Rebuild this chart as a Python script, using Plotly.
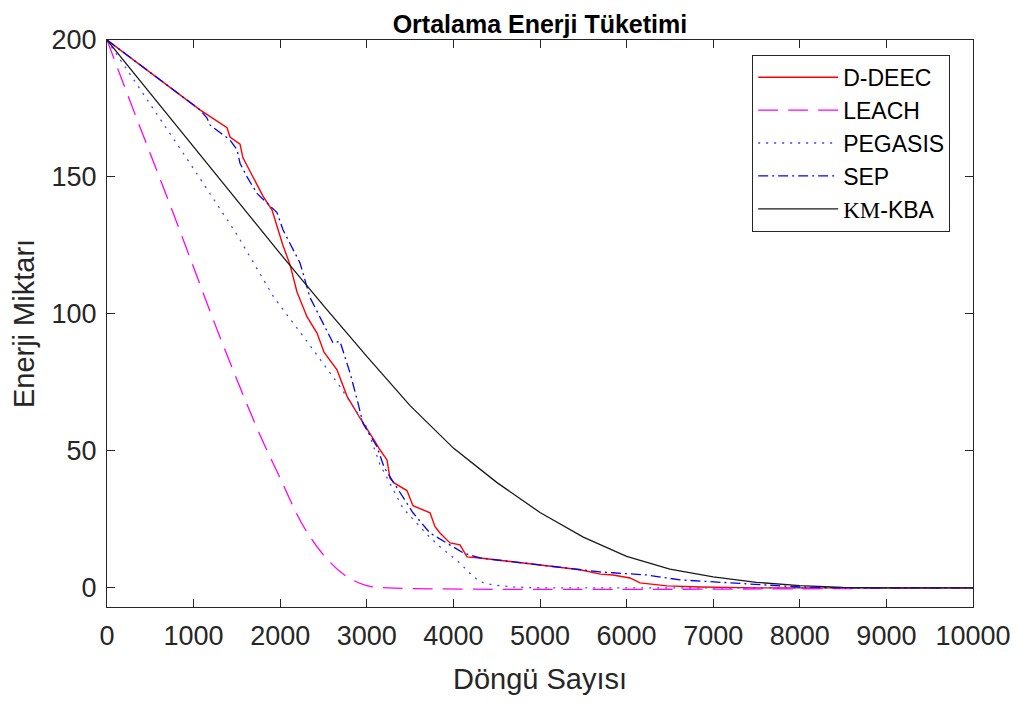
import plotly.graph_objects as go

# ---- data ----
ddeec_x = [0, 1074, 1386, 1420, 1536, 1570, 1686, 1801, 1905, 1963, 2032, 2113, 2194, 2309, 2425, 2506,
           2656, 2771, 2921, 3083, 3152, 3233, 3268, 3314, 3464, 3533, 3649, 3730, 3788, 3845, 3961,
           4076, 4157, 4307, 4688, 5000, 5462, 5700, 5843, 6039, 6155, 6467, 6848, 7500, 10000]
ddeec_y = [200, 174.5, 168, 164.6, 162, 157, 150, 143, 138, 132, 125, 118, 108, 99, 93, 86,
           79.6, 70, 62, 54, 50.4, 46.7, 40, 38.3, 35.5, 30, 28.5, 27.4, 22.3, 20, 16.4,
           15.7, 11.3, 10.9, 9.5, 8.4, 6.6, 5.0, 4.7, 3.6, 1.8, 0.7, 0.3, 0, 0]

leach_x = [0, 250, 500, 750, 1000, 1250, 1500, 1750, 2000, 2250, 2500, 2750, 3000, 3250, 10000]
leach_y = [200, 179, 158.5, 138, 117, 96, 76, 57, 40, 23.5, 12, 4.5, 0.8, 0, 0]

pegasis_x = [0, 500, 1000, 1500, 1928, 2309, 2690, 3002, 3152, 3303, 3418, 3580, 3695, 3845, 4076,
             4200, 4307, 4457, 4700, 5000, 10000]
pegasis_y = [200, 176.5, 153, 129, 106, 90, 73.5, 58.5, 45, 36, 29, 23.5, 19.5, 15, 9,
             5, 2.2, 1, 0.3, 0, 0]

sep_x = [0, 1074, 1155, 1189, 1420, 1501, 1536, 1617, 1732, 1848, 1963, 2032, 2148, 2229, 2344,
         2460, 2610, 2690, 2806, 2898, 2956, 3118, 3200, 3268, 3383, 3533, 3730, 3926, 4111, 4307,
         4688, 5000, 5462, 5693, 5843, 6230, 6617, 6848, 7229, 7621, 8000, 8500, 10000]
sep_y = [200, 174.5, 171.5, 169, 163.5, 160, 155, 150, 144, 140.5, 137, 130.7, 123.4, 118.6, 106,
         99, 89.4, 90, 78.5, 67.5, 60, 51.5, 44, 40.5, 34.7, 27.4, 20, 16.4, 12.8, 10.9,
         9.5, 8.4, 6.6, 5.8, 5.5, 4.7, 2.9, 2.5, 1.8, 1.1, 0.3, 0, 0]

kmkba_x = [0, 500, 1000, 1500, 2000, 2500, 3000, 3500, 4000, 4500, 5000, 5500, 6000, 6500,
           7000, 7500, 8000, 8500, 9000, 10000]
kmkba_y = [200, 180.5, 161, 141.5, 122, 103, 84.5, 66.5, 51, 38.5, 27.5, 18.5, 11.5, 6.8,
           4, 2, 0.8, 0.2, 0, 0]

x_ticks = [0, 1000, 2000, 3000, 4000, 5000, 6000, 7000, 8000, 9000, 10000]
x_tick_labels = ["0", "1000", "2000", "3000", "4000", "5000", "6000", "7000", "8000", "9000", "10000"]
y_ticks = [0, 50, 100, 150, 200]
y_tick_labels = ["0", "50", "100", "150", "200"]

FONT = "Liberation Sans, Arial, Helvetica, sans-serif"
AX = "#262626"

fig = go.Figure()
fig.add_trace(go.Scatter(x=ddeec_x, y=ddeec_y, mode="lines", name="D-DEEC",
                         line=dict(color="#ff0000", width=1.4)))
fig.add_trace(go.Scatter(x=leach_x, y=leach_y, mode="lines", name="LEACH", line_shape="spline",
                         line=dict(color="#ff00ff", width=1.3, dash="20px,10px")))
fig.add_trace(go.Scatter(x=pegasis_x, y=pegasis_y, mode="lines", name="PEGASIS",
                         line=dict(color="#4040ff", width=1.3, dash="2px,6px")))
fig.add_trace(go.Scatter(x=sep_x, y=sep_y, mode="lines", name="SEP",
                         line=dict(color="#0000ff", width=1.3, dash="10px,4px,2px,4px")))
fig.add_trace(go.Scatter(x=kmkba_x, y=kmkba_y, mode="lines",
                         name="<span style='font-family:Liberation Serif'>KM</span>-KBA",
                         line=dict(color="#1a1a1a", width=1.3)))

fig.update_layout(
    width=1021, height=702,
    paper_bgcolor="white", plot_bgcolor="white",
    margin=dict(l=99, r=56, t=32, b=103),
    font=dict(family=FONT, color=AX, size=27),
    title=dict(text="<b>Ortalama Enerji Tüketimi</b>", x=0.521, xanchor="center",
               y=1.0, yanchor="top", pad=dict(t=7, b=0),
               font=dict(size=25, color="#000000", family=FONT)),
    showlegend=True,
    legend=dict(x=0.745, y=0.974, xanchor="left", yanchor="top",
                bgcolor="white", bordercolor=AX, borderwidth=1,
                font=dict(size=23, color="#000000", family=FONT),
                itemwidth=80, tracegroupgap=0),
)
fig.update_xaxes(range=[0, 10000], tickvals=x_ticks, ticktext=x_tick_labels, ticks="inside",
                 ticklen=8, tickcolor=AX, ticklabelstandoff=5,
                 showline=True, linecolor=AX, linewidth=1, mirror="ticks", showgrid=False,
                 zeroline=False, tickfont=dict(size=27, color=AX),
                 title=dict(text="Döngü Sayısı", font=dict(size=29, color=AX), standoff=18))
fig.update_yaxes(range=[-7, 200], tickvals=y_ticks, ticktext=y_tick_labels, ticks="inside",
                 ticklen=8, tickcolor=AX, ticklabelstandoff=4,
                 showline=True, linecolor=AX, linewidth=1, mirror="ticks", showgrid=False,
                 zeroline=False, tickfont=dict(size=27, color=AX),
                 title=dict(text="Enerji Miktarı", font=dict(size=29, color=AX), standoff=8))

fig.write_html("out.html")
